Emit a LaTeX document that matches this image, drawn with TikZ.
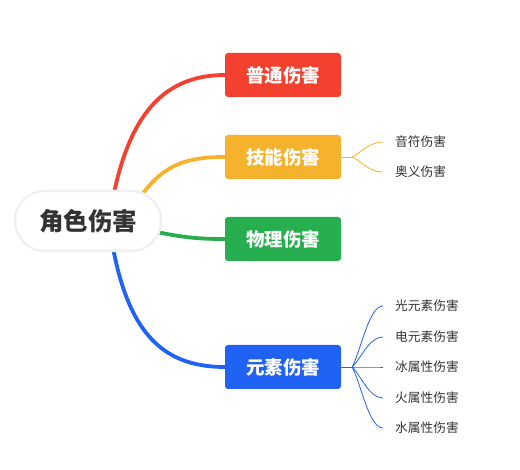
\documentclass[tikz,border=0pt]{standalone}
\usepackage{fontspec}
\setmainfont{Noto Sans CJK SC}
\usetikzlibrary{calc,backgrounds}
\definecolor{redbr}{HTML}{F4402F}
\definecolor{yellowbr}{HTML}{F5B22D}
\definecolor{greenbr}{HTML}{27AE4F}
\definecolor{bluebr}{HTML}{2062F3}
\definecolor{textgray}{HTML}{333333}
\tikzset{
  rootbox/.style={fill=white, draw=black!6, line width=2.5pt, rounded corners=30pt,
    minimum width=146pt, minimum height=60pt, text=textgray,
    font=\fontsize{24.5}{28}\selectfont\bfseries},
  topic/.style={rounded corners=3pt, minimum width=116pt, minimum height=44pt,
    inner sep=0pt, text=white, font=\fontsize{18.5}{22}\selectfont\bfseries},
  leaf/.style={anchor=west, inner xsep=12pt, inner ysep=2pt, text=textgray,
    font=\fontsize{12.7}{14}\selectfont},
  branch/.style={line width=3.8pt, line cap=round},
  twig/.style={line width=0.8pt},
}

\begin{document}
\begin{tikzpicture}[x=1pt,y=-1pt]
            \useasboundingbox (0,0) rectangle (520,470);

            \node[rootbox] (root) at (88,221) {角色伤害};

            \node[topic, fill=redbr] (normal) at (283,75) {普通伤害};
            \node[topic, fill=yellowbr] (skill) at (283,157) {技能伤害};
            \node[topic, fill=greenbr] (phys) at (283,239) {物理伤害};
            \node[topic, fill=bluebr] (elem) at (283,367) {元素伤害};

            \begin{scope}[on background layer]
            \draw[branch, redbr] (110,215) .. controls (125,120) and (160,75) .. (normal.west);
            \draw[branch, yellowbr] (135,205) .. controls (160,165) and (185,157) .. (skill.west);
            \draw[branch, greenbr] (140,228) .. controls (180,238) and (200,239) .. (phys.west);
            \draw[branch, bluebr] (110,230) .. controls (125,330) and (160,367) .. (elem.west);
            \end{scope}

            \node[leaf] (note) at (383,142) {音符伤害};
            \node[leaf] (ult) at (383,172) {奥义伤害};

            \node[leaf] (light) at (383,306) {光元素伤害};
            \node[leaf] (elec) at (383,337) {电元素伤害};
            \node[leaf] (ice) at (383,367) {冰属性伤害};
            \node[leaf] (fire) at (383,398) {火属性伤害};
            \node[leaf] (water) at (383,428) {水属性伤害};

            \coordinate (jy) at ($(skill.east)+(11,0)$);
            \coordinate (jb) at ($(elem.east)+(11,0)$);
            \draw[twig, yellowbr] (skill.east) -- (jy);
            \draw[twig, bluebr] (elem.east) -- (jb);

            \foreach \l in {note,ult}
              \draw[twig, yellowbr] (jy) .. controls ($(jy)!0.3!(\l.west)$) and ($(\l.west)+(-14,0)$) .. (\l.west);
            \foreach \l in {light,elec,ice,fire,water}
              \draw[twig, bluebr] (jb) .. controls ($(jb)!0.3!(\l.west)$) and ($(\l.west)+(-14,0)$) .. (\l.west);
\end{tikzpicture}
\end{document}
